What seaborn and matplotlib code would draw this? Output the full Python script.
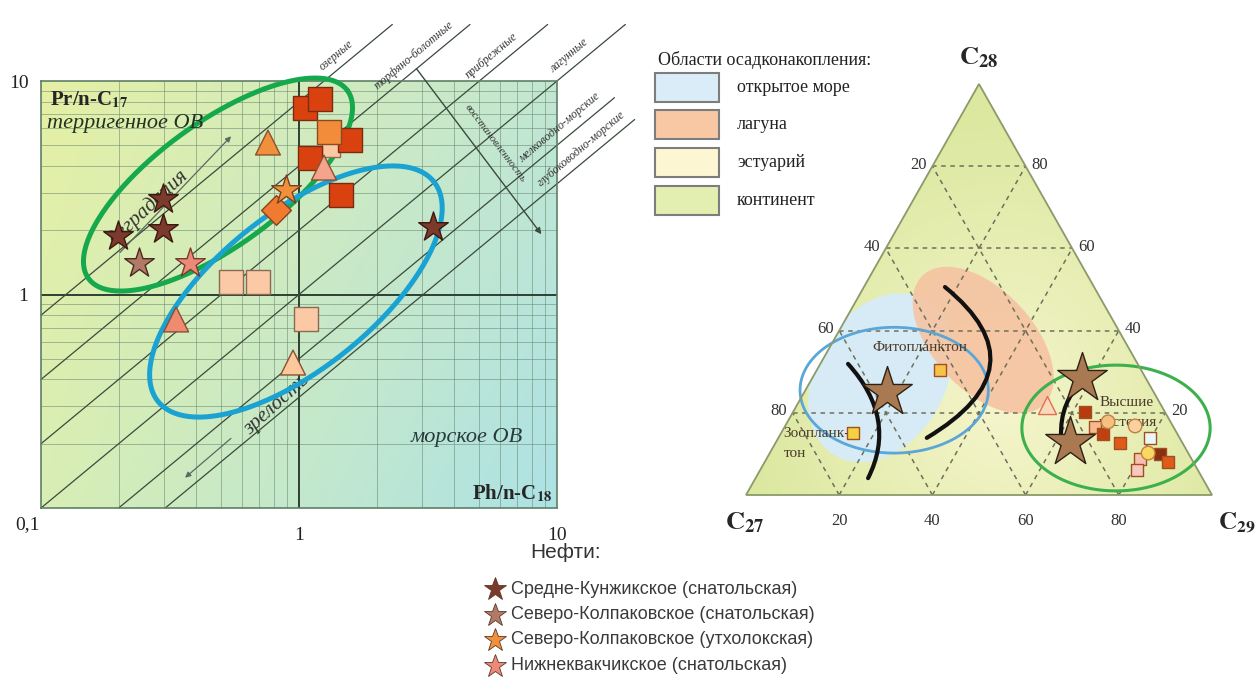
import numpy as np
import matplotlib
matplotlib.use("Agg")
import matplotlib.pyplot as plt
import seaborn as sns
from matplotlib.patches import Polygon, Rectangle, PathPatch
from matplotlib.path import Path
from matplotlib.colors import to_rgb
from matplotlib.ticker import LogLocator, NullFormatter

# ====================== DATA: left panel (Pr/n-C17 vs Ph/n-C18) ======================
star1_x = [0.199, 0.297, 0.297, 3.31]   # Средне-Кунжикское (снатольская)
star1_y = [1.87, 2.79, 2.02, 2.06]
star2_x = [0.24]                         # Северо-Колпаковское (снатольская)
star2_y = [1.41]
star3_x = [0.89]                         # Северо-Колпаковское (утхолокская)
star3_y = [3.10]
star4_x = [0.378]                        # Нижнеквакчикское (снатольская)
star4_y = [1.41]
sq_red_x = [1.055, 1.21, 1.10, 1.58, 1.455]
sq_red_y = [7.5, 8.2, 4.38, 5.32, 2.94]
sq_orange_x = [1.31]
sq_orange_y = [5.74]
sq_peach_small_x = [1.33]
sq_peach_small_y = [4.83]
sq_peach_x = [0.545, 0.694, 1.064]
sq_peach_y = [1.14, 1.15, 0.764]
tri_x = [0.758, 1.25, 0.334, 0.948]
tri_y = [5.15, 3.93, 0.764, 0.48]
dia_x = [0.815]
dia_y = [2.50]

ratio_lines = [8, 4, 2, 1, 0.5, 0.33]
ratio_labels = ["озерные", "торфяно-болотные", "прибрежные", "лагунные",
                "мелководно-морские", "глубоководно-морские"]

# ====================== DATA: ternary panel (C27 - C28 - C29, %) ======================
t_star_c27 = [57.2, 13.6, 24.0]
t_star_c28 = [25.1, 28.5, 12.9]
t_star_c29 = [17.7, 57.9, 63.1]
t_tri_c27 = [24.5]
t_tri_c28 = [21.9]
t_tri_c29 = [53.6]
t_sq_c27 = [43.2, 69.5, 17.2, 16.9, 16.0, 13.4, 6.4, 11.1, 6.2, 5.4, 13.0]
t_sq_c28 = [30.4, 15.1, 20.2, 16.5, 14.8, 12.7, 13.9, 8.8, 10.0, 8.0, 6.1]
t_sq_c29 = [26.4, 15.4, 62.6, 66.6, 69.2, 73.9, 79.7, 80.1, 83.8, 86.6, 80.9]
t_ci_c27 = [13.4, 8.1, 8.6]
t_ci_c28 = [17.8, 16.8, 10.2]
t_ci_c29 = [68.8, 75.1, 81.2]
tern_ticks = [20, 40, 60, 80]

# trend curves (start, control, end) as (C29, C28)
curve_left = [(5.95, 31.9), (23.35, 18.5), (24.15, 4.1)]
curve_mid = [(17.4, 50.6), (48.5, 31.0), (31.85, 13.9)]
curve_right = [(57.65, 25.5), (56.85, 18.9), (63.35, 9.7)]

env_labels = ["открытое море", "лагуна", "эстуарий", "континент"]
env_colors = ["#d9ecf7", "#f8c8a4", "#fdf6d2", "#e3efb0"]

oil_labels = ["Средне-Кунжикское (снатольская)", "Северо-Колпаковское (снатольская)",
              "Северо-Колпаковское (утхолокская)", "Нижнеквакчикское (снатольская)"]
oil_colors = ["#7b3a2c", "#b07a66", "#f0903c", "#ec8a78"]

# ====================== FIGURE ======================
sns.set_style("white")
plt.rcParams['font.family'] = ['Liberation Serif', 'DejaVu Serif']
plt.rcParams['mathtext.fontset'] = 'stix'
W, H = 1260, 680
fig = plt.figure(figsize=(12.6, 6.8), dpi=100)
fig.patch.set_facecolor('white')

# ---------------- left panel ----------------
L, R, T, B = 41, 557, 81, 508
pos = [L / W, 1 - B / H, (R - L) / W, (B - T) / H]
bg = fig.add_axes(pos, zorder=0)
nx, ny = 256, 128
gx = np.linspace(0, 1, nx)[None, :, None]
gy = np.linspace(1, 0, ny)[:, None, None]
c_tl, c_tr, c_bl, c_br = [np.array(to_rgb(c)) for c in ("#e6f0a4", "#c2e7d2", "#d8eeb4", "#ade2e6")]
img = (1 - gx) * (gy * c_tl + (1 - gy) * c_bl) + gx * (gy * c_tr + (1 - gy) * c_br)
bg.imshow(img, extent=[0, 1, 0, 1], aspect='auto', origin='upper')
bg.axis('off')

ax = fig.add_axes(pos, zorder=1)
ax.set_facecolor('none')
ax.set_xscale('log')
ax.set_yscale('log')
ax.set_xlim(0.1, 10)
ax.set_ylim(0.1, 10)
for a in (ax.xaxis, ax.yaxis):
    a.set_minor_locator(LogLocator(base=10, subs=np.arange(2, 10)))
    a.set_minor_formatter(NullFormatter())
ax.grid(which='minor', color='#6a8a72', lw=0.65, alpha=0.6)
ax.grid(which='major', visible=False)
ax.axvline(1, color='#2f3f33', lw=1.4, zorder=2)
ax.axhline(1, color='#2f3f33', lw=1.4, zorder=2)
for s in ax.spines.values():
    s.set_color('#5f7f66')
    s.set_linewidth(1.2)
ax.tick_params(which='both', length=0, labelsize=14, colors='#222222')
ax.set_xticks([1, 10])
ax.set_xticklabels(['1', '10'])
ax.set_yticks([1, 10])
ax.set_yticklabels(['1', '10'])
ax.tick_params(axis='x', pad=14)
ax.tick_params(axis='y', pad=9)
fig.text(27 / W, 1 - 525 / H, '0,1', fontsize=14, ha='center', va='center', color='#222222')

# ratio lines Pr/Ph
for r, lab in zip(ratio_lines, ratio_labels):
    x0 = max(0.1, 0.1 / r)
    if r >= 1:
        y_end = 18.4
        x_end = y_end / r
        xa = 12.0 / r
    else:
        x_end = 16.7 if r >= 0.5 else 20.0
        xa = 11.0 if r >= 0.5 else 13.3
    xs = np.array([x0, x_end])
    ax.plot(xs, r * xs, color='#3a4a3c', lw=0.9, clip_on=False, zorder=2)
    ax.annotate(lab, xy=(xa, r * xa), xytext=(-3, 3), textcoords='offset points',
                rotation=40, rotation_mode='anchor', ha='center', va='bottom',
                fontsize=8.5, style='italic', color='#333333', annotation_clip=False)

# восстановленность arrow
ax.annotate('', xy=(8.83, 1.87), xytext=(2.81, 11.7),
            arrowprops=dict(arrowstyle='-|>', color='#3a4a3c', lw=1.0, mutation_scale=9),
            annotation_clip=False)
ax.annotate('восстановленность', xy=(5.3, 4.7), xytext=(7.0, 5.2), textcoords='offset points',
            rotation=-53, ha='center', va='center', fontsize=8, style='italic',
            color='#333333', rotation_mode='anchor', annotation_clip=False)

# деградация / зрелость arrows
ax.annotate('', xy=(0.555, 5.63), xytext=(0.199, 1.54),
            arrowprops=dict(arrowstyle='-|>', color='#5a6a60', lw=0.9, mutation_scale=8))
ax.text(0.262, 2.56, 'деградация', rotation=43, ha='center', va='center',
        fontsize=15, style='italic', color='#333333', rotation_mode='anchor', zorder=3)
ax.annotate('', xy=(0.355, 0.136), xytext=(0.555, 0.216),
            arrowprops=dict(arrowstyle='-|>', color='#5a6a60', lw=0.9, mutation_scale=8))
ax.text(0.82, 0.305, 'зрелость', rotation=42, ha='center', va='center',
        fontsize=15, style='italic', color='#333333', rotation_mode='anchor', zorder=3)

# ellipses (log space)
tt = np.linspace(0, 2 * np.pi, 300)


def log_ellipse(c, u, v):
    lx = c[0] + u[0] * np.cos(tt) + v[0] * np.sin(tt)
    ly = c[1] + u[1] * np.cos(tt) + v[1] * np.sin(tt)
    return 10 ** lx, 10 ** ly


gx_, gy_ = log_ellipse((-0.314, 0.515), (0.502, 0.440), (-0.141, 0.235))
ax.plot(gx_, gy_, color='#16a84c', lw=3.6, clip_on=False, zorder=3)
bx_, by_ = log_ellipse((-0.012, 0.014), (0.535, 0.514), (-0.188, 0.286))
ax.plot(bx_, by_, color='#1aa2d2', lw=3.6, clip_on=False, zorder=3)

# text labels
ax.text(0.017, 0.955, r'Pr/n-C$_{\mathbf{17}}$', transform=ax.transAxes, fontsize=15,
        fontweight='bold', ha='left', va='center', zorder=6)
ax.text(0.012, 0.9, 'терригенное ОВ', transform=ax.transAxes, fontsize=16,
        style='italic', ha='left', va='center', color='#223322', zorder=6)
ax.text(0.826, 0.164, 'морское ОВ', transform=ax.transAxes, fontsize=16,
        style='italic', ha='center', va='center', color='#2a3a3a', zorder=6)
ax.text(0.99, 0.035, r'Ph/n-C$_{\mathbf{18}}$', transform=ax.transAxes, fontsize=15,
        fontweight='bold', ha='right', va='center', zorder=6)

# markers
ek = dict(ax=ax, legend=False, zorder=5, linewidth=1.0)
sns.scatterplot(x=sq_peach_small_x, y=sq_peach_small_y, marker='s', s=170, color='#fbc9a6', edgecolor='#9a6a50', **ek)
sns.scatterplot(x=sq_red_x, y=sq_red_y, marker='s', s=300, color='#d9420f', edgecolor='#7a2a10', **ek)
sns.scatterplot(x=sq_orange_x, y=sq_orange_y, marker='s', s=300, color='#f28c3a', edgecolor='#8a4a20', **ek)
sns.scatterplot(x=sq_peach_x, y=sq_peach_y, marker='s', s=300, color='#fbc9a6', edgecolor='#8a6a50', **ek)
sns.scatterplot(x=tri_x, y=tri_y, marker='^', s=320, hue=['a', 'b', 'c', 'd'],
                palette=['#f0903c', '#f4a48a', '#f08a70', '#fcc89c'], edgecolor='#8a5030', **ek)
sns.scatterplot(x=dia_x, y=dia_y, marker='D', s=230, color='#f07a30', edgecolor='#8a4020', **ek)
sns.scatterplot(x=star1_x, y=star1_y, marker='*', s=500, color=oil_colors[0], edgecolor='#3a1a10', **ek)
sns.scatterplot(x=star2_x, y=star2_y, marker='*', s=500, color=oil_colors[1], edgecolor='#4a2a20', **ek)
sns.scatterplot(x=star3_x, y=star3_y, marker='*', s=500, color=oil_colors[2], edgecolor='#7a4020', **ek)
sns.scatterplot(x=star4_x, y=star4_y, marker='*', s=500, color=oil_colors[3], edgecolor='#7a3a30', **ek)

# ---------------- ternary panel ----------------
tL, tR, tTop, tBase = 746, 1212, 84, 495
tax = fig.add_axes([tL / W, 1 - tBase / H, (tR - tL) / W, (tBase - tTop) / H], zorder=1)
tax.set_xlim(0, 100)
tax.set_ylim(0, 100)
tax.axis('off')


def txy(c28, c29):
    c28 = np.asarray(c28, float)
    c29 = np.asarray(c29, float)
    return c29 + c28 / 2.0, c28


tri_patch = Polygon([(0, 0), (100, 0), (50, 100)], closed=True, facecolor='none',
                    edgecolor='#8a9a6a', lw=1.3, zorder=6, clip_on=False)
tax.add_patch(tri_patch)
clip_tri = Polygon([(0, 0), (100, 0), (50, 100)], closed=True, transform=tax.transData)

# background gradient
GX, GY = np.meshgrid(np.linspace(0, 100, 200), np.linspace(100, 0, 200))
dd = np.clip(np.hypot((GX - 55) / 55, (GY - 22) / 70), 0, 1)[..., None]
c_in, c_out = np.array(to_rgb('#f5f5cc')), np.array(to_rgb('#dce8a0'))
timg = c_in * (1 - dd) + c_out * dd
im = tax.imshow(timg, extent=[0, 100, 0, 100], aspect='auto', origin='upper', zorder=0)
im.set_clip_path(clip_tri)


def xy_ellipse(c, u, v):
    return np.column_stack([c[0] + u[0] * np.cos(tt) + v[0] * np.sin(tt),
                            c[1] + u[1] * np.cos(tt) + v[1] * np.sin(tt)])


blue_blob = Polygon(xy_ellipse((28.8, 28.5), (9.66, 18.95), (-12.08, 7.91)),
                    facecolor='#d6ebf6', edgecolor='none', zorder=1)
tax.add_patch(blue_blob)
blue_blob.set_clip_path(clip_tri)
orange_blob = Polygon(xy_ellipse((50.9, 37.7), (12.9, -15.8), (7.9, 8.25)),
                      facecolor='#f6c3a2', edgecolor='none', alpha=0.9, zorder=1)
tax.add_patch(orange_blob)
orange_blob.set_clip_path(clip_tri)

# dashed grid
for v in tern_ticks:
    for (a28, a29), (b28, b29) in [((v, 0), (v, 100 - v)),
                                   ((0, v), (100 - v, v)),
                                   ((0, 100 - v), (100 - v, 0))]:
        xa_, ya_ = txy([a28, b28], [a29, b29])
        tax.plot(xa_, ya_, color='#6f705a', lw=1.1, ls=(0, (3, 3)), zorder=2)
    lx, ly = txy(v, 0)
    tax.annotate(str(100 - v), xy=(lx, ly), xytext=(-4, 1), textcoords='offset points',
                 ha='right', va='center', fontsize=12, color='#333333', annotation_clip=False)
    rx, ry = txy(v, 100 - v)
    tax.annotate(str(v), xy=(rx, ry), xytext=(4, 1), textcoords='offset points',
                 ha='left', va='center', fontsize=12, color='#333333', annotation_clip=False)
    bx, by = txy(0, v)
    tax.annotate(str(v), xy=(bx, by), xytext=(0, -19), textcoords='offset points',
                 ha='center', va='center', fontsize=12, color='#333333', annotation_clip=False)

# ellipses around groups
tax.add_patch(Polygon(xy_ellipse((31.8, 25.5), (20.2, 0), (0, 15.3)), closed=True,
                      facecolor='none', edgecolor='#5aa6d6', lw=2.0, zorder=3, clip_on=False))
tax.add_patch(Polygon(xy_ellipse((79.4, 16.3), (20.2, 0), (0, 15.3)), closed=True,
                      facecolor='none', edgecolor='#3cb04c', lw=2.2, zorder=3, clip_on=False))

# black trend curves
for crv in (curve_left, curve_mid, curve_right):
    pts = [txy(c28, c29) for c29, c28 in crv]
    path = Path([(float(p[0]), float(p[1])) for p in pts], [Path.MOVETO, Path.CURVE3, Path.CURVE3])
    tax.add_patch(PathPatch(path, facecolor='none', edgecolor='#111111', lw=3.0, zorder=4,
                            capstyle='round'))

# texts inside triangle
tfx, tfy = txy(36.0, 19.3)
tax.text(tfx, tfy, 'Фитопланктон', fontsize=11, ha='center', va='center', color='#4a3a2a', zorder=4)
tax.text(8.0, 15.0, 'Зоопланк-', fontsize=11, ha='left', va='center', color='#4a3a2a', zorder=4)
tax.text(8.0, 10.1, 'тон', fontsize=11, ha='left', va='center', color='#4a3a2a', zorder=4)
tax.text(75.8, 22.6, 'Высшие', fontsize=11, ha='left', va='center', color='#4a3a2a', zorder=4)
tax.text(75.8, 17.7, 'растения', fontsize=11, ha='left', va='center', color='#4a3a2a', zorder=4)

# markers
tk = dict(ax=tax, legend=False, zorder=5, linewidth=1.0)
sx, sy = txy(t_sq_c28, t_sq_c29)
sns.scatterplot(x=sx, y=sy, marker='s', s=80, hue=list(range(len(sx))),
                palette=['#f5c24a', '#f5d040', '#b83a10', '#f8b890', '#c04010', '#e05a18',
                         '#eaf6f8', '#f8c0b0', '#8a3010', '#e05a18', '#f8c8c0'],
                edgecolor='#a05020', **tk)
cx, cy = txy(t_ci_c28, t_ci_c29)
sns.scatterplot(x=cx, y=cy, marker='o', s=95, hue=['a', 'b', 'c'],
                palette=['#f8c080', '#fad0a0', '#f8d860'], edgecolor='#c08040', **tk)
trx, try_ = txy(t_tri_c28, t_tri_c29)
sns.scatterplot(x=trx, y=try_, marker='^', s=170, color='#f9d8bc', edgecolor='#e07050', **tk)
stx, sty = txy(t_star_c28, t_star_c29)
sns.scatterplot(x=stx, y=sty, marker='*', s=1400, color='#a97a52', edgecolor='#2e2016', **tk)

# corner labels
tax.text(50, 103.5, r'$\mathbf{C_{28}}$', fontsize=19, ha='center', va='bottom', clip_on=False)
tax.text(-0.3, -3.8, r'$\mathbf{C_{27}}$', fontsize=19, ha='center', va='top', clip_on=False)
tax.text(105.4, -3.8, r'$\mathbf{C_{29}}$', fontsize=18, ha='center', va='top', clip_on=False)

# ---------------- overlay: legends ----------------
ov = fig.add_axes([0, 0, 1, 1], zorder=10)
ov.set_xlim(0, W)
ov.set_ylim(H, 0)
ov.axis('off')

ov.text(658, 60, 'Области осадконакопления:', fontsize=13, ha='left', va='center', color='#222222')
for i, (lab, col) in enumerate(zip(env_labels, env_colors)):
    cyy = 87 + i * 37.7
    ov.add_patch(Rectangle((655, cyy - 14.5), 64, 29, facecolor=col, edgecolor='#7d7d7d', lw=1.5))
    ov.text(737, cyy, lab, fontsize=13, ha='left', va='center', color='#222222')

ov.text(566, 552, 'Нефти:', fontsize=15, ha='center', va='center', color='#333333',
        family=['Liberation Sans', 'DejaVu Sans'])
for i, (lab, col) in enumerate(zip(oil_labels, oil_colors)):
    yy = 589 + i * 25.5
    ov.plot([495], [yy], marker='*', ms=17, color=col, mec='#5a3a2a', mew=0.6, ls='none')
    ov.text(511, yy, lab, fontsize=13, ha='left', va='center', color='#3a3a3a',
            family=['Liberation Sans', 'DejaVu Sans'])

fig.savefig('out.png', dpi=100, facecolor='white')
